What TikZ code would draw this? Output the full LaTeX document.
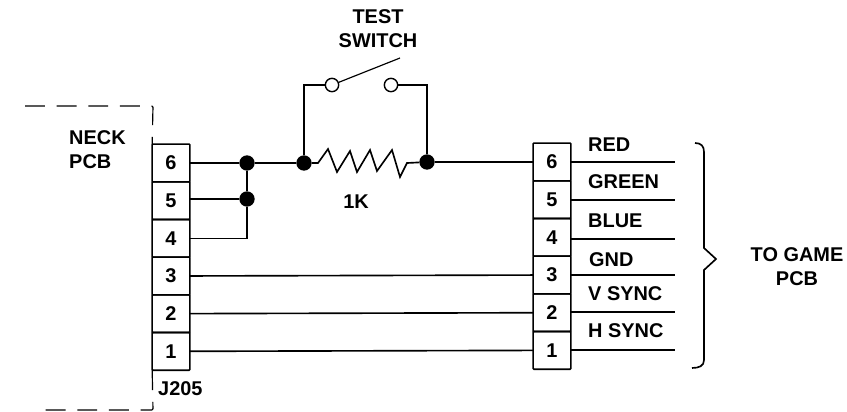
\documentclass[tikz,border=0pt]{standalone}
\usepackage{fontspec}
\setmainfont{Liberation Sans}
\usepackage{tikz}
\usetikzlibrary{positioning}
\tikzstyle{wire} = [line width=1.4pt]

\begin{document}
\begin{tikzpicture}[
        x=0.03cm, y=-0.03cm,
        node distance=0cm,
        every node/.style={font=\fontsize{17pt}{20.5pt}\selectfont\bfseries},
        pin/.style={draw, line width=1.4pt, rounded corners=0.6pt, outer sep=0pt, minimum width=1.13cm, minimum height=1.13cm, inner sep=0pt},
        label/.style={align=center, inner sep=0pt},
        wirename/.style={label, anchor=west},
        dot/.style={circle, fill=black, minimum size=0.46cm, inner sep=0pt},
        contact/.style={circle, draw, line width=1.2pt, fill=white, minimum size=0.4cm, inner sep=0pt},
        pcbedge/.style={line width=1pt, dash pattern=on 17pt off 10pt, rounded corners=1pt}
    ]
        \useasboundingbox (0,0) rectangle (847,411);

        % Define the connector pins vertically
        \node (j205_6) [pin] at (171,163) {6};
        \node (j205_5) [pin, below=of j205_6] {5};
        \node (j205_4) [pin, below=of j205_5] {4};
        \node (j205_3) [pin, below=of j205_4] {3};
        \node (j205_2) [pin, below=of j205_3] {2};
        \node (j205_1) [pin, below=of j205_2] {1};

        \node (game_6) [pin] at (552,162) {6};
        \node (game_5) [pin, below=of game_6] {5};
        \node (game_4) [pin, below=of game_5] {4};
        \node (game_3) [pin, below=of game_4] {3};
        \node (game_2) [pin, below=of game_3] {2};
        \node (game_1) [pin, below=of game_2] {1};

        % Edge of the neck board
        \coordinate (neck_tl) at (25,106);
        \coordinate (neck_tr) at (153,106);
        \coordinate (neck_br) at (153,410);
        \coordinate (neck_bl) at (35,410);
        \draw[pcbedge] (neck_tl) -- (neck_tr) -- (j205_6.north west);
        \draw[pcbedge] (j205_1.south west) -- (neck_br) -- (neck_bl);

        % Add junctions and switch contacts
        \node (dot_six) [dot] at (247,163) {};
        \node (dot_five) [dot] at (247,199) {};
        \node (dot_left) [dot] at (304,163) {};
        \node (dot_right) [dot] at (427,162) {};
        \node (sw_left) [contact] at (332,85) {};
        \node (sw_right) [contact] at (391,85) {};
        \coordinate (sw_lever) at (400,58);

        % Add wires
        \draw[wire] (j205_6) -- (dot_six) -- (dot_left);
        \draw[wire] (dot_five -| j205_5.east) -- (dot_five);
        \draw[wire] (j205_4) -| (dot_five);
        \draw[wire] (dot_six) -- (dot_five);
        \draw[wire] (dot_right) -- (game_6);
        \draw[wire] (j205_3) -- (game_3);
        \draw[wire] (j205_2) -- (game_2);
        \draw[wire] (j205_1) -- (game_1);

        % Resistor and switch
        \draw[wire] (dot_left) -- (318,163) -- (328,149) -- (337,172) -- (350,151) -- (357,172) -- (370,150) -- (377,171) -- (392,150) -- (400,177) -- (407,163) -- (dot_right);
        \draw[wire] (dot_left) |- (sw_left);
        \draw[wire] (dot_right) |- (sw_right);
        \draw[line width=1pt] (sw_left) -- (sw_lever);

        % Add wires leaving for the game board
        \coordinate (out_6) at (675,162);
        \coordinate (out_5) at (675,200);
        \coordinate (out_4) at (675,239);
        \coordinate (out_3) at (675,275);
        \coordinate (out_2) at (675,312);
        \coordinate (out_1) at (675,350);
        \draw[wire] (out_6 -| game_6.east) -- (out_6);
        \draw[wire] (out_5 -| game_5.east) -- (out_5);
        \draw[wire] (out_4 -| game_4.east) -- (out_4);
        \draw[wire] (out_3 -| game_3.east) -- (out_3);
        \draw[wire] (out_2 -| game_2.east) -- (out_2);
        \draw[wire] (out_1 -| game_1.east) -- (out_1);

        % Brace
        \coordinate (brace_tip) at (716,259);
        \draw[wire] (695,143) .. controls (701,143) and (704,146) .. (704,152) -- (704,248) -- (brace_tip) -- (704,270) -- (704,360) .. controls (704,366) and (699,368) .. (692,368);

        % Add labels
        \node (test_label) [label] at (378,29) {TEST\\SWITCH};
        \node (res_label) [label] at (356,202) {1K};
        \node (neck_label) [label, align=left, anchor=west] at (69,150) {NECK\\PCB};
        \node (j205_label) [label, anchor=west] at (158,389) {J205};
        \node (red_label) [wirename] at (588,145) {RED};
        \node (green_label) [wirename] at (588,182) {GREEN};
        \node (blue_label) [wirename] at (588,221) {BLUE};
        \node (gnd_label) [wirename] at (589,260) {GND};
        \node (vsync_label) [wirename] at (588,294) {V SYNC};
        \node (hsync_label) [wirename] at (588,331) {H SYNC};
        \node (game_label) [label] at (797,267) {TO GAME\\PCB};
    \end{tikzpicture}
\end{document}
